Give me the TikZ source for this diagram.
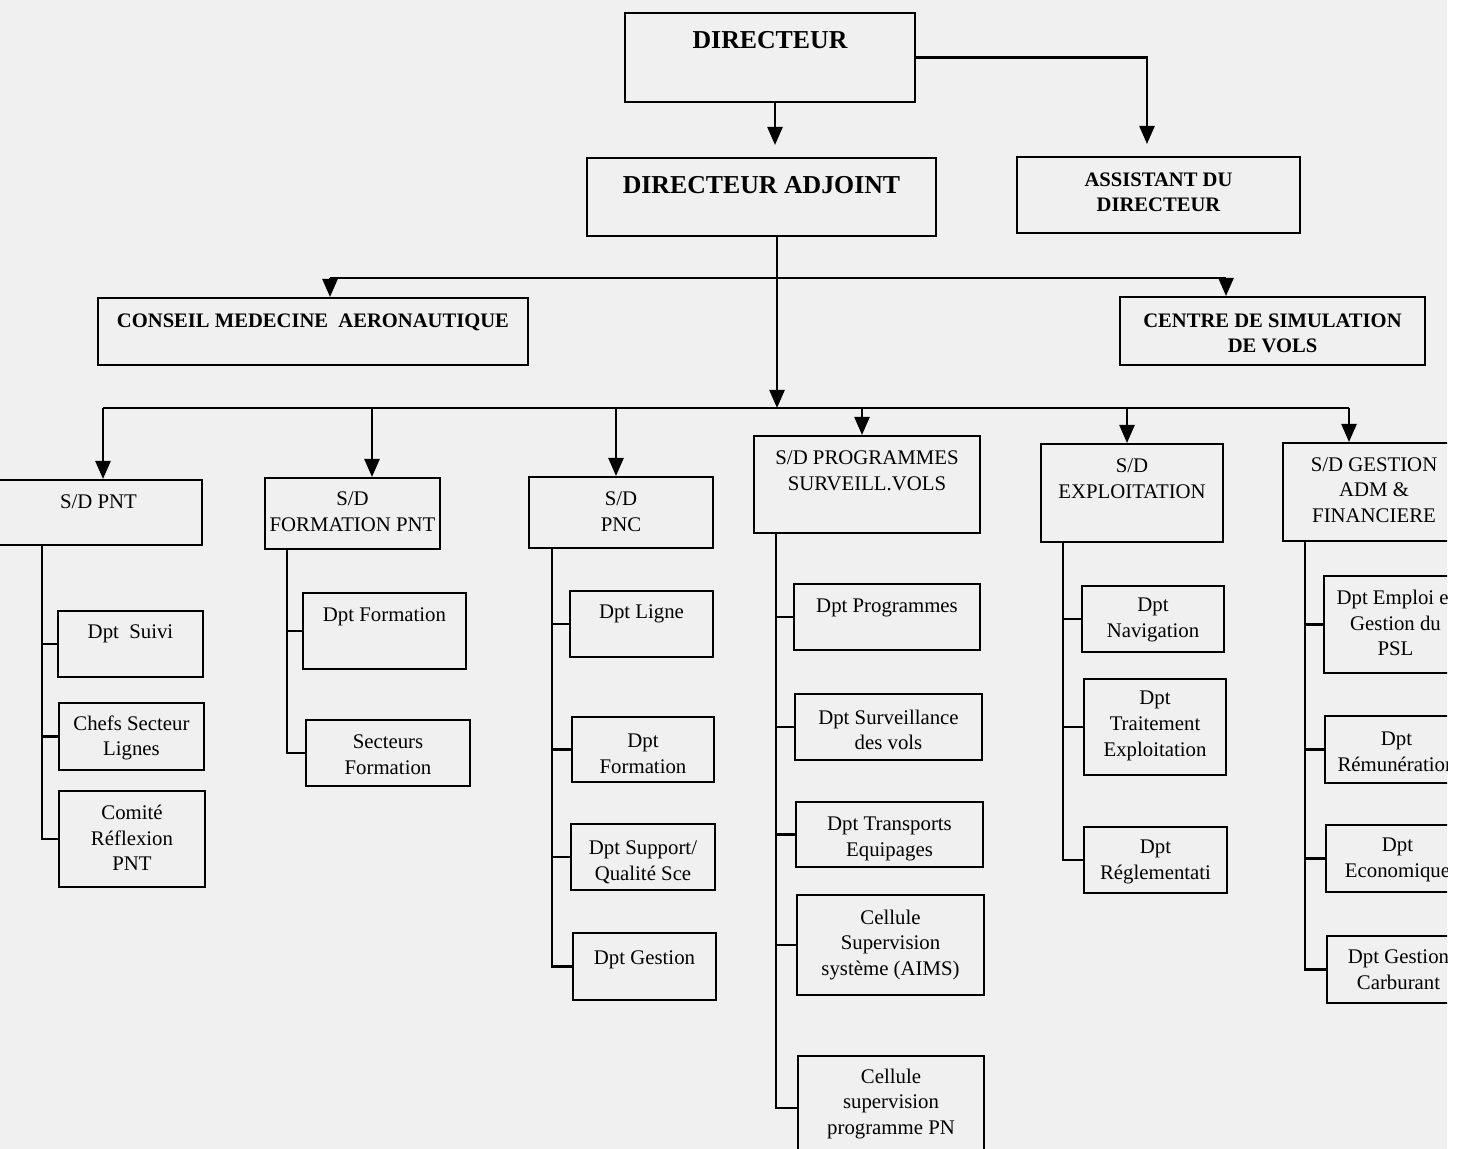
\documentclass[tikz,border=0pt]{standalone}
\usepackage{fontspec}
\setmainfont{Liberation Serif}
\usepackage{tikz}
\usetikzlibrary{arrows.meta}

% one unit of the chart: box (name) and its text (name-t)
\newcommand{\orgunit}[8][lbl]{%
  \node[unitbox, minimum width={(#5-#3)*0.5pt}, minimum height={(#6-#4)*0.5pt}]
       (#2) at ({(#3+#5)/2},{(#4+#6)/2}) {};
  \node[#1] (#2-t) at ({(#3+#5)/2},#7) {#8};}

\begin{document}
\begin{tikzpicture}[x=0.5pt,y=-0.5pt,
    >={Triangle[length=9pt,width=7.5pt]},
    unitbox/.style={draw, line width=1pt, inner sep=0pt},
    lbl/.style={align=center, inner sep=0pt, font=\fontsize{10.4}{12.8}\selectfont},
    head/.style={lbl, font=\fontsize{12.9}{15}\selectfont\bfseries},
    subhead/.style={lbl, font=\fontsize{10.3}{12.6}\selectfont\bfseries},
    link/.style={line width=1.2pt}]
\useasboundingbox (0,0) rectangle (1461,1149);
\fill[black!6] (0,0) rectangle (1447,1149);
\begin{scope}
\clip (0,0) rectangle (1447,1149);

% direction
\orgunit[head]{dir}{625}{13}{915}{102}{40}{DIRECTEUR}
\orgunit[head]{adj}{587}{158}{936}{236}{185}{DIRECTEUR ADJOINT}
\orgunit[subhead]{asst}{1017}{157}{1300}{233}{192}{ASSISTANT DU\\DIRECTEUR}
\orgunit[subhead]{cons}{98}{298}{528}{365}{322}{CONSEIL MEDECINE\ \ AERONAUTIQUE}
\orgunit[subhead]{centre}{1120}{297}{1425}{365}{333}{CENTRE DE SIMULATION\\DE VOLS}

% sous-directions
\orgunit{sdpnt}{-5}{480}{202}{545}{502}{S/D PNT}
\orgunit{sdform}{265}{478}{440}{549}{512}{S/D\\FORMATION PNT}
\orgunit{sdpnc}{529}{477}{713}{548}{512}{S/D\\PNC}
\orgunit{sdprog}{754}{436}{980}{533}{471}{S/D PROGRAMMES\\SURVEILL.VOLS}
\orgunit{sdexpl}{1041}{444}{1223}{542}{479}{S/D\\EXPLOITATION}
\orgunit{sdgest}{1283}{443}{1465}{541}{490}{S/D GESTION\\ADM \&\\FINANCIERE}

% departements
\orgunit{suivi}{58}{611}{203}{677}{634}{Dpt\ \ Suivi}
\orgunit{chefs}{59}{703}{204}{770}{738}{Chefs Secteur\\Lignes}
\orgunit{comite}{59}{791}{205}{887}{838}{Comité\\Réflexion\\PNT}

\orgunit{dform}{303}{593}{466}{669}{617}{Dpt Formation}
\orgunit{secteurs}{306}{720}{470}{786}{755}{Secteurs\\Formation}

\orgunit{ligne}{570}{591}{713}{657}{614}{Dpt Ligne}
\orgunit{pncform}{572}{717}{714}{782}{754}{Dpt\\Formation}
\orgunit{support}{571}{824}{715}{890}{862}{Dpt Support/\\Qualité Sce}
\orgunit{pncgest}{573}{933}{716}{1000}{960}{Dpt Gestion}

\orgunit{prog}{794}{584}{980}{650}{608}{Dpt Programmes}
\orgunit{surv}{795}{694}{982}{760}{730}{Dpt Surveillance\\des vols}
\orgunit{transp}{796}{802}{983}{867}{839}{Dpt Transports\\Equipages}
\orgunit{aims}{797}{895}{984}{995}{945}{Cellule\\Supervision\\système (AIMS)}
\orgunit{cellpn}{798}{1056}{984}{1160}{1104}{Cellule\\supervision\\programme PN}

\orgunit{nav}{1082}{586}{1224}{652}{620}{Dpt\\Navigation}
\orgunit{trait}{1084}{679}{1226}{775}{726}{Dpt\\Traitement\\Exploitation}
\orgunit{regl}{1084}{827}{1227}{893}{862}{Dpt\\Réglementati}

\orgunit{emploi}{1324}{576}{1467}{673}{623}{Dpt Emploi et\\Gestion du\\PSL}
\orgunit{remun}{1325}{716}{1468}{783}{752}{Dpt\\Rémunération}
\orgunit{econ}{1326}{825}{1469}{892}{860}{Dpt\\Economique}
\orgunit{carb}{1327}{936}{1470}{1003}{970}{Dpt Gestion\\Carburant}

% liaisons du directeur
\coordinate (jd) at (775,0);
\coordinate (ja) at (1147,0);
\draw[link,->,shorten >=6pt] (dir.south -| jd) -- (adj.north -| jd);
\draw[link,->,shorten >=6pt] (dir.east) -| (asst.north -| ja);

% liaisons du directeur adjoint
\coordinate (jt) at (777,408);
\coordinate (jc) at (330,278);
\coordinate (js) at (1226,278);
\draw[link,->] (adj.south -| jt) -- (jt);
\draw[link] (jc) -- (js);
\draw[link,->] (jc) -- (cons.north -| jc);
\draw[link,->] (js) -- (centre.north -| js);

% barre des sous-directions
\foreach \sd/\x in {sdpnt/103, sdform/372, sdpnc/616, sdprog/862, sdexpl/1127, sdgest/1349}{
  \coordinate (b-\sd) at (\x,408);
  \draw[link,->] (b-\sd) -- (\sd.north -| b-\sd);
}
\draw[link] (b-sdpnt) -- (b-sdgest);

% colonnes des departements
\foreach \sd/\x/\kids/\last in {sdpnt/42/{suivi,chefs}/comite,
    sdform/287/{dform}/secteurs,
    sdpnc/552/{ligne,pncform,support}/pncgest,
    sdprog/776/{prog,surv,transp,aims}/cellpn,
    sdexpl/1063/{nav,trait}/regl,
    sdgest/1305/{emploi,remun,econ}/carb}{
  \coordinate (t-\sd) at (\x,0);
  \draw[link] (\sd.south -| t-\sd) |- (\last.west);
  \foreach \k in \kids
    \draw[link] (t-\sd |- \k.west) -- (\k.west);
}
\end{scope}
\end{tikzpicture}
\end{document}
